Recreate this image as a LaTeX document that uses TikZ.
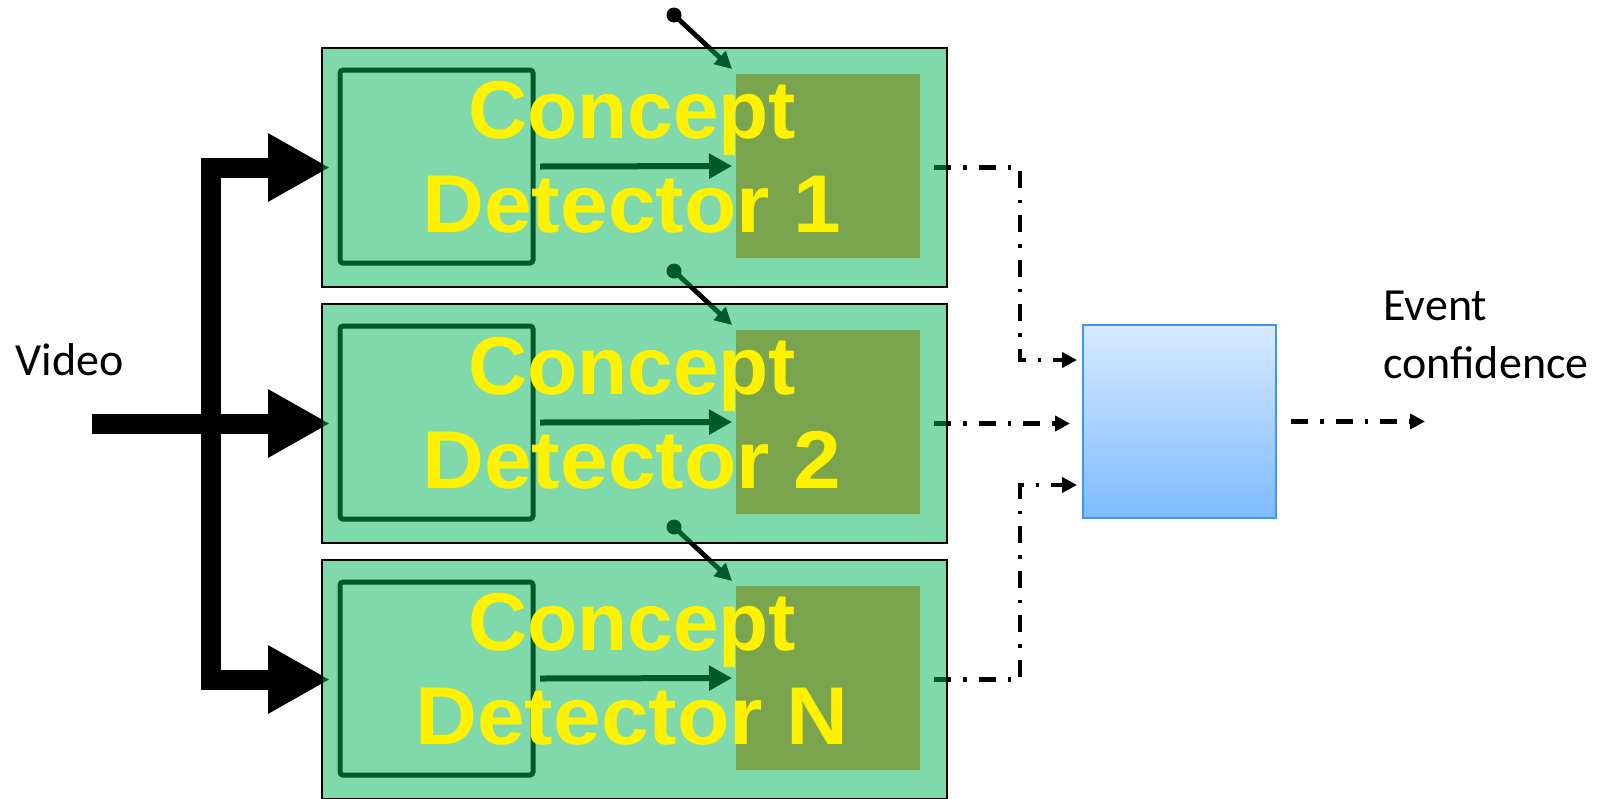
\documentclass[tikz,border=0pt]{standalone}
\usepackage{graphicx}
\usepackage{fontspec}
\setmainfont{Carlito}
\newfontfamily\boldsans{Liberation Sans}
\usetikzlibrary{arrows.meta}
\pgfdeclarelayer{under}
\pgfsetlayers{under,main}
\definecolor{boxgreen}{RGB}{0,179,87}
\definecolor{orangeacc}{RGB}{247,150,70}
\definecolor{bluetop}{RGB}{216,233,255}
\definecolor{bluebot}{RGB}{125,187,255}
\definecolor{blueedge}{RGB}{61,151,247}
\newcommand{\widetext}[1]{\scalebox{1.045}[1]{#1}}
\tikzset{
  outerbox/.style={rectangle, draw=black, line width=1pt, fill=boxgreen, fill opacity=0.5,
    minimum width=312.5pt, minimum height=119.5pt, inner sep=0pt, outer sep=0pt},
  innerbox/.style={rectangle, draw=black, line width=2.5pt, rounded corners=1.5pt,
    minimum width=96.5pt, minimum height=96.5pt, inner sep=0pt, outer sep=0pt},
  orangebox/.style={rectangle, fill=orangeacc, minimum width=92pt, minimum height=92pt,
    inner sep=0pt, outer sep=0pt},
  fusebox/.style={rectangle, draw=blueedge, line width=1.25pt, top color=bluetop, bottom color=bluebot,
    minimum width=96.5pt, minimum height=96.5pt, inner sep=0pt, outer sep=0pt},
  innerarrow/.style={draw=black, line width=3pt, -{Triangle[length=11.5pt,width=12pt]}},
  bigarrow/.style={draw=black, line width=10pt, -{Triangle[length=31pt,width=32pt]}},
  bigelbow/.style={draw=black, line width=10pt,
    {Triangle[length=31pt,width=32pt]}-{Triangle[length=31pt,width=32pt]}},
  pindot/.style={circle, fill=black, minimum size=7.5pt, inner sep=0pt, outer sep=0pt},
  pinline/.style={draw=black, line width=2.4pt, -{Triangle[length=8.5pt,width=8.5pt]}},
  dashdot/.style={draw=black, line width=2.2pt, dash pattern=on 8.5pt off 6pt on 1.75pt off 6pt,
    -{Triangle[length=7.5pt,width=7.5pt]}},
  ytext/.style={text=yellow, font=\boldsans\bfseries\fontsize{41pt}{47pt}\selectfont, inner sep=0pt},
  lbl/.style={text=black, font=\fontsize{23pt}{28pt}\selectfont, inner sep=0pt}
}
\begin{document}
\begin{tikzpicture}[x=0.5pt,y=-0.5pt]
\useasboundingbox (0,0) rectangle (1604,798);

% parts beneath the translucent detector boxes (top y: 48, 304, 560)
\begin{pgfonlayer}{under}
  \node[orangebox] (ol1) at (828,166) {};
  \node[orangebox] (ol2) at (828,422) {};
  \node[orangebox] (ol3) at (828,678) {};
  \node[innerbox] (in1) at (436.5,166.5) {};
  \node[innerbox] (in2) at (436.5,422.5) {};
  \node[innerbox] (in3) at (436.5,678.5) {};
  \draw[innerarrow] ([xshift=3.5pt]in1.east) -- ([xshift=-2pt]ol1.west);
  \draw[innerarrow] ([xshift=3.5pt]in2.east) -- ([xshift=-2pt]ol2.west);
  \draw[innerarrow] ([xshift=3.5pt]in3.east) -- ([xshift=-2pt]ol3.west);
  % pins
  \node[pindot] (p1) at (674,15) {};
  \node[pindot] (p2) at (674,271) {};
  \node[pindot] (p3) at (674,527) {};
  \draw[pinline] (p1.center) -- ([xshift=-2pt,yshift=2.5pt]ol1.north west);
  \draw[pinline] (p2.center) -- ([xshift=-2pt,yshift=2.5pt]ol2.north west);
  \draw[pinline] (p3.center) -- ([xshift=-2pt,yshift=2.5pt]ol3.north west);
  % big input arrows
  \coordinate (vtail) at (92,423.5);
  \coordinate (bar) at (211,423.5);
  \coordinate (t1) at (330,167.5);
  \coordinate (t2) at (330,423.5);
  \coordinate (t3) at (330,679.5);
  \draw[bigarrow] (vtail) -- (t2);
  \draw[bigelbow] (t1) -| (bar) |- (t3);
\end{pgfonlayer}

% outer detector boxes (translucent)
\node[outerbox] (d1) at (634.5,167.5) {};
\node[outerbox] (d2) at (634.5,423.5) {};
\node[outerbox] (d3) at (634.5,679.5) {};

% fusion box
\node[fusebox] (fu) at (1179.5,421.5) {};

% dash-dot connectors
\begin{pgfonlayer}{under}
  \coordinate (j1) at (1020,360);
  \coordinate (j3) at (1020,485);
  \coordinate (outend) at (1425,421.5);
  \draw[dashdot] ([xshift=-6.5pt]d1.east) -| (j1) -- ([xshift=-3pt]fu.west |- j1);
  \draw[dashdot] ([xshift=-6.5pt]d2.east) -- ([xshift=-6.5pt]fu.west |- d2.east);
  \draw[dashdot] ([xshift=-6.5pt]d3.east) -| (j3) -- ([xshift=-3pt]fu.west |- j3);
\end{pgfonlayer}
\draw[dashdot] ([xshift=7.5pt]fu.east) -- (outend);

% yellow titles
\node[ytext, anchor=base] (c1a) at (632,138) {Concept};
\node[ytext, anchor=base] (c1b) at (632,232) {\widetext{Detector 1}};
\node[ytext, anchor=base] (c2a) at (632,394) {Concept};
\node[ytext, anchor=base] (c2b) at (632,488) {\widetext{Detector 2}};
\node[ytext, anchor=base] (c3a) at (632,650) {Concept};
\node[ytext, anchor=base] (c3b) at (632,744) {\widetext{Detector N}};

% labels
\node[lbl, anchor=base west] (video) at (15,375) {Video};
\node[lbl, anchor=base west] (ev1) at (1383,320) {Event};
\node[lbl, anchor=base west] (ev2) at (1383,378) {confidence};
\end{tikzpicture}
\end{document}
